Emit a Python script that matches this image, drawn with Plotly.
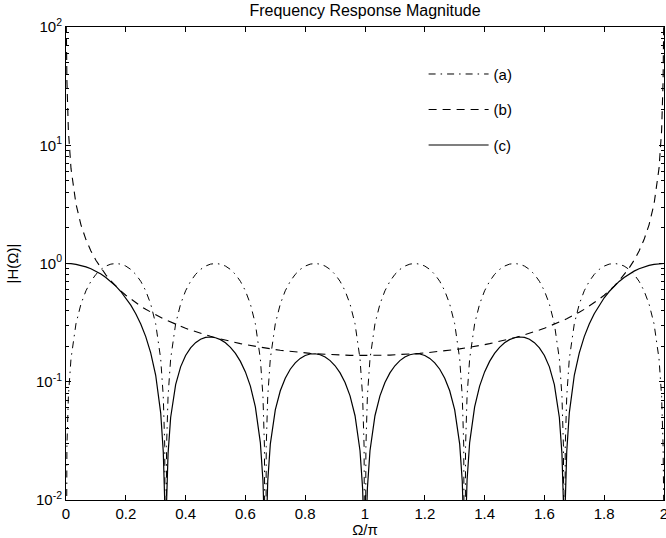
import plotly.graph_objects as go

# normalized frequency Omega/pi
omega_over_pi = [
    0, 0.001, 0.003, 0.008,
    0.0167, 0.0333, 0.05, 0.0667, 0.0833, 0.1, 0.1167, 0.1333, 0.15, 0.1667,
    0.1833, 0.2, 0.2167, 0.2333, 0.25, 0.2667, 0.2833, 0.3, 0.3167,
    0.3253, 0.3303, 0.3333, 0.3363, 0.3413,
    0.35, 0.3667, 0.3833, 0.4, 0.4167, 0.4333, 0.45, 0.4667, 0.4833, 0.5,
    0.5167, 0.5333, 0.55, 0.5667, 0.5833, 0.6, 0.6167, 0.6333, 0.65,
    0.6587, 0.6637, 0.6667, 0.6697, 0.6747,
    0.6833, 0.7, 0.7167, 0.7333, 0.75, 0.7667, 0.7833, 0.8, 0.8167, 0.8333,
    0.85, 0.8667, 0.8833, 0.9, 0.9167, 0.9333, 0.95, 0.9667, 0.9833,
    0.992, 0.997, 1.0, 1.003, 1.008,
    1.0167, 1.0333, 1.05, 1.0667, 1.0833, 1.1, 1.1167, 1.1333, 1.15, 1.1667,
    1.1833, 1.2, 1.2167, 1.2333, 1.25, 1.2667, 1.2833, 1.3, 1.3167,
    1.3253, 1.3303, 1.3333, 1.3363, 1.3413,
    1.35, 1.3667, 1.3833, 1.4, 1.4167, 1.4333, 1.45, 1.4667, 1.4833, 1.5,
    1.5167, 1.5333, 1.55, 1.5667, 1.5833, 1.6, 1.6167, 1.6333, 1.65,
    1.6587, 1.6637, 1.6667, 1.6697, 1.6747,
    1.6833, 1.7, 1.7167, 1.7333, 1.75, 1.7667, 1.7833, 1.8, 1.8167, 1.8333,
    1.85, 1.8667, 1.8833, 1.9, 1.9167, 1.9333, 1.95, 1.9667, 1.9833,
    1.992, 1.997, 1.999, 2.0,
]

# (a) dash-dot curve
mag_a = [
    0.0001, 0.0094, 0.0283, 0.0753,
    0.1564, 0.3090, 0.4540, 0.5878, 0.7071, 0.8090, 0.8910, 0.9511, 0.9877, 1.0,
    0.9877, 0.9511, 0.8910, 0.8090, 0.7071, 0.5878, 0.4540, 0.3090, 0.1564,
    0.0753, 0.0283, 0.0001, 0.0283, 0.0753,
    0.1564, 0.3090, 0.4540, 0.5878, 0.7071, 0.8090, 0.8910, 0.9511, 0.9877, 1.0,
    0.9877, 0.9511, 0.8910, 0.8090, 0.7071, 0.5878, 0.4540, 0.3090, 0.1564,
    0.0753, 0.0283, 0.0001, 0.0283, 0.0753,
    0.1564, 0.3090, 0.4540, 0.5878, 0.7071, 0.8090, 0.8910, 0.9511, 0.9877, 1.0,
    0.9877, 0.9511, 0.8910, 0.8090, 0.7071, 0.5878, 0.4540, 0.3090, 0.1564,
    0.0753, 0.0283, 0.0001, 0.0283, 0.0753,
    0.1564, 0.3090, 0.4540, 0.5878, 0.7071, 0.8090, 0.8910, 0.9511, 0.9877, 1.0,
    0.9877, 0.9511, 0.8910, 0.8090, 0.7071, 0.5878, 0.4540, 0.3090, 0.1564,
    0.0753, 0.0283, 0.0001, 0.0283, 0.0753,
    0.1564, 0.3090, 0.4540, 0.5878, 0.7071, 0.8090, 0.8910, 0.9511, 0.9877, 1.0,
    0.9877, 0.9511, 0.8910, 0.8090, 0.7071, 0.5878, 0.4540, 0.3090, 0.1564,
    0.0753, 0.0283, 0.0001, 0.0283, 0.0753,
    0.1564, 0.3090, 0.4540, 0.5878, 0.7071, 0.8090, 0.8910, 0.9511, 0.9877, 1.0,
    0.9877, 0.9511, 0.8910, 0.8090, 0.7071, 0.5878, 0.4540, 0.3090, 0.1564,
    0.0753, 0.0283, 0.0094, 0.0001,
]

# (b) dashed curve
mag_b = [
    None, 106.1, 35.37, 13.26,
    6.367, 3.184, 2.124, 1.594, 1.277, 1.065, 0.9146, 0.8016, 0.7139, 0.6439,
    0.5868, 0.5393, 0.4993, 0.4651, 0.4355, 0.4098, 0.3871, 0.3671, 0.3493,
    0.3408, 0.3360, 0.3333, 0.3306, 0.3262,
    0.3190, 0.3060, 0.2943, 0.2835, 0.2738, 0.2648, 0.2566, 0.2491, 0.2421, 0.2357,
    0.2298, 0.2243, 0.2192, 0.2145, 0.2101, 0.2060, 0.2022, 0.1987, 0.1955,
    0.1939, 0.1930, 0.1925, 0.1919, 0.1911,
    0.1897, 0.1871, 0.1847, 0.1824, 0.1804, 0.1785, 0.1768, 0.1752, 0.1738, 0.1725,
    0.1714, 0.1704, 0.1695, 0.1687, 0.1681, 0.1676, 0.1672, 0.1669, 0.1667,
    0.1667, 0.1667, 0.1667, 0.1667, 0.1667,
    0.1667, 0.1669, 0.1672, 0.1676, 0.1681, 0.1687, 0.1695, 0.1704, 0.1714, 0.1725,
    0.1738, 0.1752, 0.1768, 0.1785, 0.1804, 0.1824, 0.1847, 0.1871, 0.1897,
    0.1911, 0.1919, 0.1925, 0.1930, 0.1939,
    0.1955, 0.1987, 0.2022, 0.2060, 0.2101, 0.2145, 0.2192, 0.2243, 0.2298, 0.2357,
    0.2421, 0.2491, 0.2566, 0.2648, 0.2738, 0.2835, 0.2943, 0.3060, 0.3190,
    0.3262, 0.3306, 0.3333, 0.3360, 0.3408,
    0.3493, 0.3671, 0.3871, 0.4098, 0.4355, 0.4651, 0.4993, 0.5393, 0.5868, 0.6439,
    0.7139, 0.8016, 0.9146, 1.065, 1.277, 1.594, 2.124, 3.184, 6.367,
    13.26, 35.37, 106.1, None,
]

# (c) solid curve
mag_c = [
    1.0, 1.0, 1.0, 0.999,
    0.9958, 0.9839, 0.9643, 0.9370, 0.9030, 0.8616, 0.8149, 0.7624, 0.7051, 0.6439,
    0.5796, 0.5129, 0.4449, 0.3763, 0.3079, 0.2409, 0.1757, 0.1134, 0.0546,
    0.02566, 0.00951, 0.0001, 0.00936, 0.02456,
    0.0499, 0.0946, 0.1336, 0.1666, 0.1936, 0.2142, 0.2286, 0.2369, 0.2391, 0.2357,
    0.2270, 0.2133, 0.1953, 0.1735, 0.1486, 0.1211, 0.0918, 0.0614, 0.0306,
    0.0146, 0.00546, 0.0001, 0.00543, 0.0144,
    0.0297, 0.0578, 0.0839, 0.1072, 0.1276, 0.1444, 0.1575, 0.1666, 0.1717, 0.1725,
    0.1693, 0.1621, 0.1510, 0.1365, 0.1189, 0.0985, 0.0759, 0.0516, 0.0261,
    0.01255, 0.00472, 0.0001, 0.00472, 0.01255,
    0.0261, 0.0516, 0.0759, 0.0985, 0.1189, 0.1365, 0.1510, 0.1621, 0.1693, 0.1725,
    0.1717, 0.1666, 0.1575, 0.1444, 0.1276, 0.1072, 0.0839, 0.0578, 0.0297,
    0.0144, 0.00543, 0.0001, 0.00546, 0.0146,
    0.0306, 0.0614, 0.0918, 0.1211, 0.1486, 0.1735, 0.1953, 0.2133, 0.2270, 0.2357,
    0.2391, 0.2369, 0.2286, 0.2142, 0.1936, 0.1666, 0.1336, 0.0946, 0.0499,
    0.02456, 0.00936, 0.0001, 0.00951, 0.02566,
    0.0546, 0.1134, 0.1757, 0.2409, 0.3079, 0.3763, 0.4449, 0.5129, 0.5796, 0.6439,
    0.7051, 0.7624, 0.8149, 0.8616, 0.9030, 0.9370, 0.9643, 0.9839, 0.9958,
    0.999, 1.0, 1.0, 1.0,
]

series_names = ["(a)", "(b)", "(c)"]
x_tick_vals = [0, 0.2, 0.4, 0.6, 0.8, 1, 1.2, 1.4, 1.6, 1.8, 2]
x_tick_text = ["0", "0.2", "0.4", "0.6", "0.8", "1", "1.2", "1.4", "1.6", "1.8", "2"]
y_tick_vals = [0.01, 0.1, 1, 10, 100]
y_tick_text = ["10<sup>-2</sup>", "10<sup>-1</sup>", "10<sup>0</sup>",
               "10<sup>1</sup>", "10<sup>2</sup>"]

FONT = "Liberation Sans, Arial, Helvetica, sans-serif"

fig = go.Figure()
styles = [
    dict(color="black", width=1, dash="7px,5px,1.5px,5px"),
    dict(color="black", width=1.1, dash="8px,6px"),
    dict(color="black", width=1.2, dash="solid"),
]
for name, ys, st in zip(series_names, [mag_a, mag_b, mag_c], styles):
    fig.add_trace(go.Scatter(
        x=omega_over_pi, y=ys, mode="lines", name=name,
        line=st, legendgroup=name, connectgaps=False,
    ))

fig.update_layout(
    width=666, height=538,
    margin=dict(l=66, r=2, t=27, b=38, autoexpand=False),
    paper_bgcolor="white", plot_bgcolor="white",
    font=dict(family=FONT, size=15, color="black"),
    title=dict(text="Frequency Response Magnitude", x=0.5, xref="paper",
               y=1 - 10 / 538, yref="container", yanchor="middle",
               font=dict(family=FONT, size=16, color="black")),
    showlegend=True,
    legend=dict(x=0.598, y=0.935, xanchor="left", yanchor="top",
                bgcolor="rgba(0,0,0,0)", borderwidth=0,
                font=dict(family=FONT, size=15),
                itemwidth=60, tracegroupgap=13),
)
fig.update_xaxes(
    range=[0, 2], tickvals=x_tick_vals, ticktext=x_tick_text,
    ticks="inside", ticklen=5, tickcolor="black", tickwidth=1,
    showline=True, linecolor="black", linewidth=1, mirror="ticks",
    showgrid=False, zeroline=False, automargin=False,
    ticklabelstandoff=0, ticklabeloverflow="allow",
    title=dict(text="Ω/π", standoff=1, font=dict(family=FONT, size=15)),
    tickfont=dict(family=FONT, size=15),
)
fig.update_yaxes(
    type="log", range=[-2, 2], tickvals=y_tick_vals, ticktext=y_tick_text,
    ticks="inside", ticklen=5, tickcolor="black", tickwidth=1,
    minor=dict(ticks="inside", ticklen=3, tickcolor="black", dtick="D1", showgrid=False),
    showline=True, linecolor="black", linewidth=1, mirror="ticks",
    showgrid=False, zeroline=False, automargin=False, ticklabeloverflow="allow",
    title=dict(text="|H(Ω)|", standoff=13, font=dict(family=FONT, size=15)),
    tickfont=dict(family=FONT, size=15),
)

fig.write_html("out.html", config={"displayModeBar": False},
               post_script="document.body.style.margin='0';")
